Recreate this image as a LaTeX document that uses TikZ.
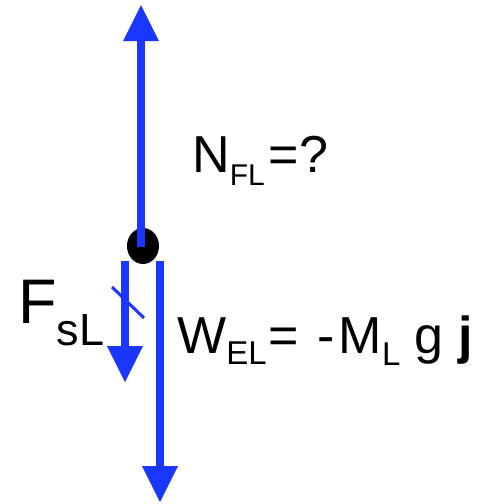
\documentclass[tikz,border=0pt]{standalone}
\usepackage{fontspec}
\setmainfont{Liberation Sans}
\usetikzlibrary{arrows.meta,shapes.geometric}
\definecolor{forceblue}{RGB}{25,55,255}

\begin{document}
\begin{tikzpicture}[x=1pt,y=-1pt,
  force/.style={draw=forceblue,line width=8pt,
    -{Triangle[length=36pt,width=36pt,line width=0pt]},forceblue},
  lbl/.style={anchor=base west,inner sep=0pt}]
\useasboundingbox (0,0) rectangle (491,504);
% the mass as a black dot
\node[ellipse,fill=black,minimum width=32pt,minimum height=36pt,inner sep=0pt] (mass) at (143,246) {};
% ends of the three forces
\coordinate (nStart) at (141,247);
\coordinate (nTip) at (141,5);
\coordinate (fStart) at (125,261);
\coordinate (fTip) at (125,382);
\coordinate (wStart) at (160,261);
\coordinate (wTip) at (160,502);
\coordinate (slashA) at (112,287);
\coordinate (slashB) at (144,318);
\draw[force] (nStart)--(nTip);
\draw[force] (fStart)--(fTip);
\draw[force] (wStart)--(wTip);
\draw[forceblue,line width=3pt] (slashA)--(slashB);
% labels
\node[lbl] (nLabel) at (192,172) {\fontsize{52}{52}\selectfont N\raisebox{-13pt}{\fontsize{30}{30}\selectfont FL}\kern4pt=?};
\node[lbl] (fLabel) at (18,323) {\fontsize{63}{63}\selectfont F\raisebox{-22pt}{\fontsize{45}{45}\selectfont sL}};
\node[lbl] (wLabel) at (177,353) {\fontsize{52}{52}\selectfont W\raisebox{-11pt}{\fontsize{33}{33}\selectfont EL}\kern2pt= \kern4pt-\kern4pt M\raisebox{-12pt}{\fontsize{33}{33}\selectfont L} g \textbf{j}};
\end{tikzpicture}
\end{document}
